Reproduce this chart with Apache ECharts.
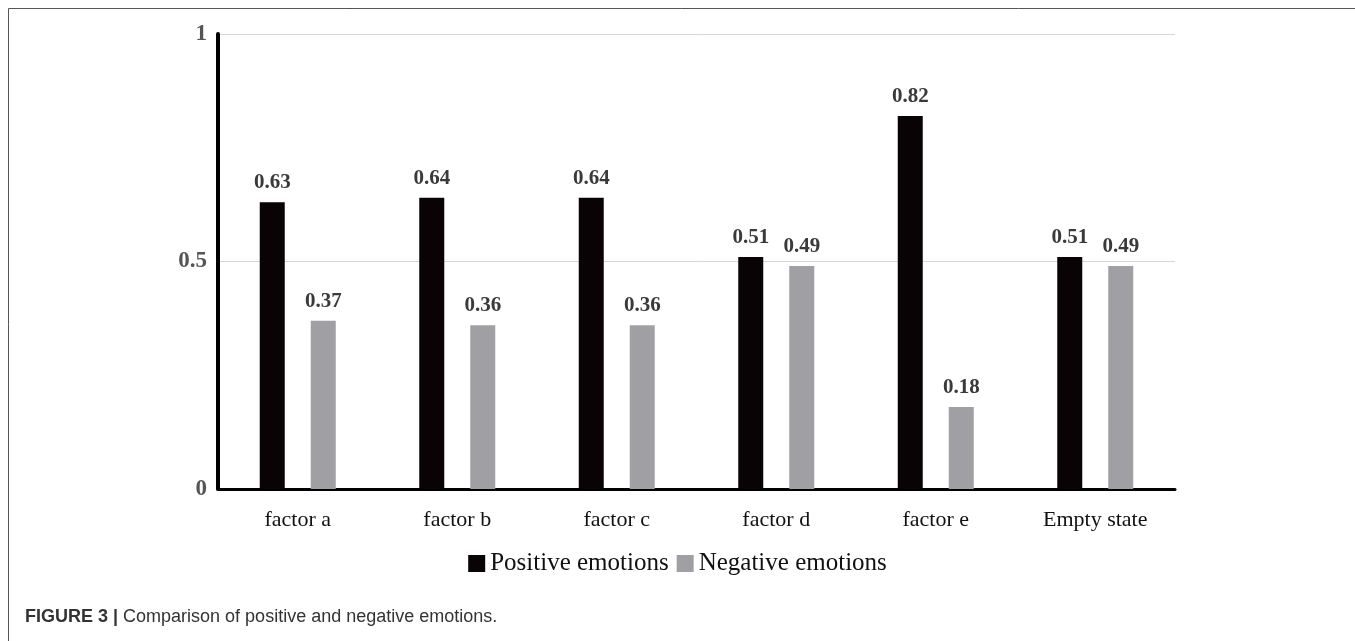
<!DOCTYPE html>
<html>
<head>
<meta charset="utf-8">
<script src="https://cdn.jsdelivr.net/npm/echarts@6/dist/echarts.min.js"></script>
<style>
  html, body { margin: 0; padding: 0; background: #fff; }
  #chart { width: 1355px; height: 641px; }
</style>
</head>
<body>
<div id="chart"></div>
<script>
const categories = ['factor a', 'factor b', 'factor c', 'factor d', 'factor e', 'Empty state'];
const positive = [0.63, 0.64, 0.64, 0.51, 0.82, 0.51];
const negative = [0.37, 0.36, 0.36, 0.49, 0.18, 0.49];

const serif = "'Liberation Serif', 'DejaVu Serif', serif";
const chart = echarts.init(document.getElementById('chart'));

const labelStyle = {
  show: true,
  position: 'top',
  distance: 9,
  fontFamily: serif,
  fontWeight: 'bold',
  fontSize: 21,
  color: '#3a3a3a'
};

const option = {
  animation: false,
  grid: { left: 218, right: 180, top: 34, bottom: 152 },
  legend: {
    bottom: 60,
    left: 'center',
    icon: 'rect',
    itemWidth: 17,
    itemHeight: 17,
    itemGap: 8,
    textStyle: { fontFamily: serif, fontSize: 25, color: '#111' },
    data: ['Positive emotions', 'Negative emotions']
  },
  xAxis: {
    type: 'category',
    data: categories,
    axisLine: { lineStyle: { color: '#000', width: 3 } },
    axisTick: { show: false },
    axisLabel: { margin: 20, fontFamily: serif, fontSize: 22, color: '#111' }
  },
  yAxis: {
    type: 'value',
    min: 0,
    max: 1,
    interval: 0.5,
    axisLine: { show: true, lineStyle: { color: '#000', width: 4 } },
    axisTick: { show: false },
    splitLine: { lineStyle: { color: '#d6d6d6', width: 1 } },
    axisLabel: { margin: 11, fontFamily: serif, fontWeight: 'bold', fontSize: 23, color: '#555' }
  },
  series: [
    {
      name: 'Positive emotions',
      type: 'bar',
      data: positive,
      barWidth: 25,
      barGap: '104%',
      itemStyle: { color: '#0a0306' },
      label: labelStyle
    },
    {
      name: 'Negative emotions',
      type: 'bar',
      data: negative,
      barWidth: 25,
      itemStyle: { color: '#a0a0a4' },
      label: labelStyle
    }
  ],
  graphic: [
    { type: 'line', shape: { x1: 8.5, y1: 8.5, x2: 1355, y2: 8.5 }, style: { stroke: '#555', lineWidth: 1 } },
    { type: 'line', shape: { x1: 8.5, y1: 8.5, x2: 8.5, y2: 641 }, style: { stroke: '#555', lineWidth: 1 } },
    {
      type: 'text', left: 25, top: 608,
      style: {
        text: '{b|FIGURE 3 |} Comparison of positive and negative emotions.',
        fontFamily: "'Liberation Sans', Arial, sans-serif",
        fontSize: 18,
        fill: '#333',
        rich: { b: { fontWeight: 'bold', fontSize: 18, fontFamily: "'Liberation Sans', Arial, sans-serif", color: '#333' } }
      }
    }
  ]
};
chart.setOption(option);
</script>
</body>
</html>
